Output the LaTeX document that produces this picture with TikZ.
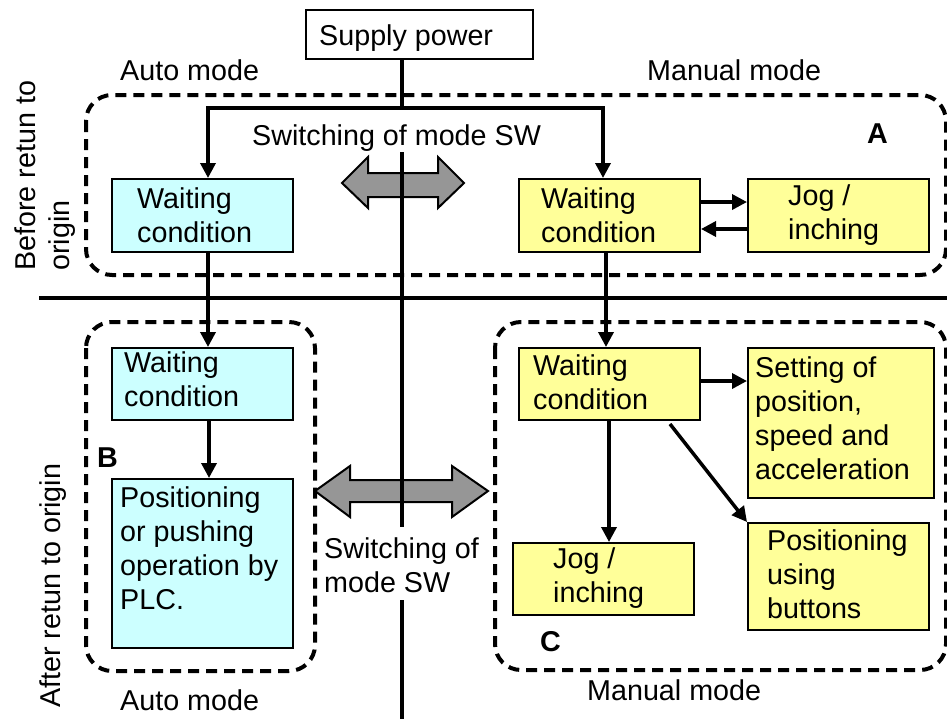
\documentclass[tikz,border=0pt]{standalone}
\usepackage{fontspec}
\setmainfont{Liberation Sans}
\usetikzlibrary{arrows.meta,calc}
\definecolor{cyanfill}{HTML}{CCFFFF}
\definecolor{yelfill}{HTML}{FFFF99}
\definecolor{grayarrow}{HTML}{969696}
\newcommand{\mlines}[1]{\begin{tabular}[t]{@{}l@{}}#1\end{tabular}}
\begin{document}
\begin{tikzpicture}[x=1pt,y=-1pt,
 font=\fontsize{28.7}{34}\selectfont,
 box/.style={draw=black, line width=2pt, anchor=north west, inner sep=0pt},
 cbox/.style={box, fill=cyanfill},
 ybox/.style={box, fill=yelfill},
 txt/.style={anchor=base west, inner sep=0pt},
 conn/.style={line width=3.5pt},
 arr/.style={conn, -{Triangle[length=15pt,width=15pt]}},
 grp/.style={line width=4pt, dash pattern=on 11pt off 7pt, rounded corners=26pt},
 mainline/.style={line width=4.5pt},
 swarrow/.style={fill=grayarrow, draw=black, line width=2pt, line join=miter},
 letter/.style={txt, font=\fontsize{28.7}{34}\selectfont\bfseries}
]
\useasboundingbox (0,0) rectangle (947,718);
\clip (0,0) rectangle (947,718);
\fill[white] (0,0) rectangle (947,718);

% group outlines
\draw[grp] (86,95) rectangle (946,275);
\draw[grp] (86,322) rectangle (315,671);
\draw[grp] (495,322) rectangle (946,670);

% supply box
\node[box, fill=white, minimum width=227pt, minimum height=49pt] (sp) at (305,9) {};
\node[txt] (tsp) at (319,45) {Supply power};

% boxes
\node[cbox, minimum width=181pt, minimum height=73pt] (aw1) at (111,178) {};
\node[ybox, minimum width=181pt, minimum height=73pt] (mw1) at (518,178) {};
\node[ybox, minimum width=181pt, minimum height=73pt] (jg1) at (747,178) {};
\node[cbox, minimum width=181pt, minimum height=72pt] (aw2) at (111,347) {};
\node[cbox, minimum width=181pt, minimum height=169pt] (pos) at (111,478) {};
\node[ybox, minimum width=181pt, minimum height=72pt] (mw2) at (518,347) {};
\node[ybox, minimum width=186pt, minimum height=150pt] (set) at (747,347) {};
\node[ybox, minimum width=181pt, minimum height=72pt] (jg2) at (512,542) {};
\node[ybox, minimum width=181pt, minimum height=107pt] (pub) at (747,522) {};

% box texts
\node[txt] (taw1) at (137,208) {\mlines{Waiting\\condition}};
\node[txt] (tmw1) at (541,208) {\mlines{Waiting\\condition}};
\node[txt] (tjg1) at (788,205) {\mlines{Jog /\\inching}};
\node[txt] (taw2) at (124,372) {\mlines{Waiting\\condition}};
\node[txt] (tpos) at (120,507) {\mlines{Positioning\\or pushing\\operation by\\PLC.}};
\node[txt] (tmw2) at (533,375) {\mlines{Waiting\\condition}};
\node[txt] (tset) at (755,377) {\mlines{Setting of\\position,\\speed and\\acceleration}};
\node[txt] (tjg2) at (553,568) {\mlines{Jog /\\inching}};
\node[txt] (tpub) at (767,550) {\mlines{Positioning\\using\\buttons}};

% labels
\node[txt] (am1) at (120,80) {Auto mode};
\node[txt] (mm1) at (647,80) {Manual mode};
\node[txt] (am2) at (120,710) {Auto mode};
\node[txt] (mm2) at (587,700) {Manual mode};
\node[txt] (sw1) at (252,145) {Switching of mode SW};
\node[txt] (sw2) at (324,558) {\mlines{Switching of\\mode SW}};
\node[letter] (la) at (867,143) {A};
\node[letter] (lb) at (97,467) {B};
\node[letter] (lc) at (540,651) {C};
\node[txt, rotate=90] (bef) at (35,271) {\mlines{Before retun to\\origin}};
\node[txt, rotate=90] (aft) at (60,708) {After retun to origin};

% switching arrows
\draw[swarrow] (342,183) -- (368,157) -- (368,173) -- (438,173) -- (438,157) -- (464,183)
  -- (438,208) -- (438,197) -- (368,197) -- (368,208) -- cycle;
\draw[swarrow] (315,491) -- (350,466) -- (350,480) -- (452,480) -- (452,466) -- (488,491)
  -- (452,517) -- (452,502) -- (350,502) -- (350,517) -- cycle;

% main lines
\coordinate (j) at (402,108);
\coordinate (c1) at (402,152);
\coordinate (c2) at (402,527);
\coordinate (c3) at (402,600);
\coordinate (c4) at (402,720);
\coordinate (d1) at (39,298);
\coordinate (d2) at (950,298);
\draw[mainline] (c1) -- (c2);
\draw[mainline] (c3) -- (c4);
\draw[mainline] (d1) -- (d2);

% connectors
\coordinate (ya) at (0,202);
\coordinate (yb) at (0,229);
\coordinate (yc) at (0,381);
\draw[conn] (j |- sp.south) -- (j);
\draw[arr] (j) -| ([xshift=5.5pt]aw1.north);
\draw[arr] (j) -| ([xshift=-6.5pt]mw1.north);
\draw[arr] ([xshift=5.5pt]aw1.south) -- ([xshift=5.5pt]aw2.north);
\draw[arr] ([xshift=-3.5pt]mw1.south) -- ([xshift=-3.5pt]mw2.north);
\draw[arr] (mw1.east |- ya) -- (jg1.west |- ya);
\draw[arr] (jg1.west |- yb) -- (mw1.east |- yb);
\draw[arr] ([xshift=6.5pt]aw2.south) -- ([xshift=6.5pt]pos.north);
\draw[arr] (mw2.east |- yc) -- (set.west |- yc);
\draw[arr] ([xshift=-0.5pt]mw2.south) -- ([xshift=5.5pt]jg2.north);
\draw[arr] ($(mw2.south west)+(152,3)$) -- (pub.north west);
\end{tikzpicture}
\end{document}
